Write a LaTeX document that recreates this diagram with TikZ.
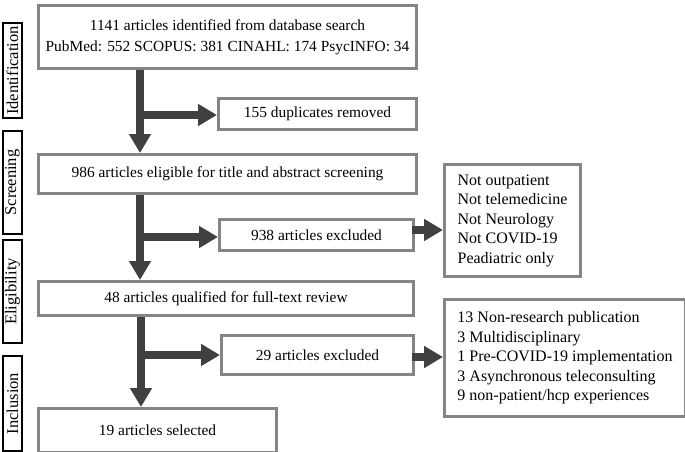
\documentclass[tikz,border=0pt]{standalone}
\usepackage{fontspec}
\setmainfont{Liberation Serif}
\usetikzlibrary{arrows.meta}
\definecolor{boxgray}{HTML}{858585}
\definecolor{arrgray}{HTML}{404040}
\tikzset{
  box/.style={draw=boxgray, line width=3pt, fill=white, anchor=north west, inner sep=0pt, align=center, font=\fontsize{15.4}{21}\selectfont},
  lbox/.style={box, align=left, inner xsep=12pt, font=\fontsize{16}{19.5}\selectfont},
  stage/.style={draw=black, line width=2pt, anchor=north west, inner sep=0pt},
  stagetext/.style={rotate=90, font=\fontsize{16.5}{18}\selectfont},
  arr/.style={draw=arrgray, line width=7.5pt, -{Triangle[length=19pt,width=21pt]}}
}
\begin{document}
\begin{tikzpicture}[x=1pt,y=-1pt]
\useasboundingbox (0,0) rectangle (685,452);
% stage labels
\node[stage, minimum width=19pt, minimum height=95pt] (sid) at (2,22) {};
\node[stagetext] (tid) at (sid.center) {Identification};
\node[stage, minimum width=19pt, minimum height=103pt] (ssc) at (2,130) {};
\node[stagetext] (tsc) at (ssc.center) {Screening};
\node[stage, minimum width=19pt, minimum height=103pt] (sel) at (2,239) {};
\node[stagetext] (tel) at (sel.center) {Eligibility};
\node[stage, minimum width=19pt, minimum height=95pt] (sin) at (2,355) {};
\node[stagetext] (tin) at (sin.center) {Inclusion};
% main boxes
\node[box, minimum width=378pt, minimum height=63pt] (b1) at (37,4) {1141 articles identified from database search\\PubMed: 552 SCOPUS: 381 CINAHL: 174 PsycINFO: 34};
\node[box, minimum width=198pt, minimum height=31pt] (dup) at (217,97) {155 duplicates removed};
\node[box, minimum width=378pt, minimum height=39pt] (b2) at (37,153) {986 articles eligible for title and abstract screening};
\node[box, minimum width=194pt, minimum height=31pt] (ex1) at (218,218) {938 articles excluded};
\node[box, minimum width=375pt, minimum height=34pt] (b3) at (37,280) {48 articles qualified for full-text review};
\node[box, minimum width=192pt, minimum height=39pt] (ex2) at (220,334) {29 articles excluded};
\node[box, minimum width=238pt, minimum height=44pt] (b4) at (37,407) {19 articles selected};
\node[lbox, minimum width=136pt, minimum height=112pt] (r1) at (443,163) {Not outpatient\\Not telemedicine\\Not Neurology\\Not COVID-19\\Peadiatric only};
\node[lbox, minimum width=241pt, minimum height=117pt] (r2) at (443,298) {13 Non-research publication\\3 Multidisciplinary\\1 Pre-COVID-19 implementation\\3 Asynchronous teleconsulting\\9 non-patient/hcp experiences};
% connectors
\coordinate (t1) at (140,115);
\coordinate (t2) at (140,237);
\coordinate (t3) at (141,355);
\draw[arr] (b1.south -| t1) -- (b2.north -| t1);
\draw[arr] (t1) -- (t1 -| dup.west);
\draw[arr] (b2.south -| t2) -- (b3.north -| t2);
\draw[arr] (t2) -- (t2 -| ex1.west);
\draw[arr] (b3.south -| t3) -- (b4.north -| t3);
\draw[arr] (t3) -- (t3 -| ex2.west);
\coordinate (a1) at (412,230);
\coordinate (a2) at (412,357);
\draw[arr] (a1) -- (a1 -| r1.west);
\draw[arr] (a2) -- (a2 -| r2.west);
\end{tikzpicture}
\end{document}
